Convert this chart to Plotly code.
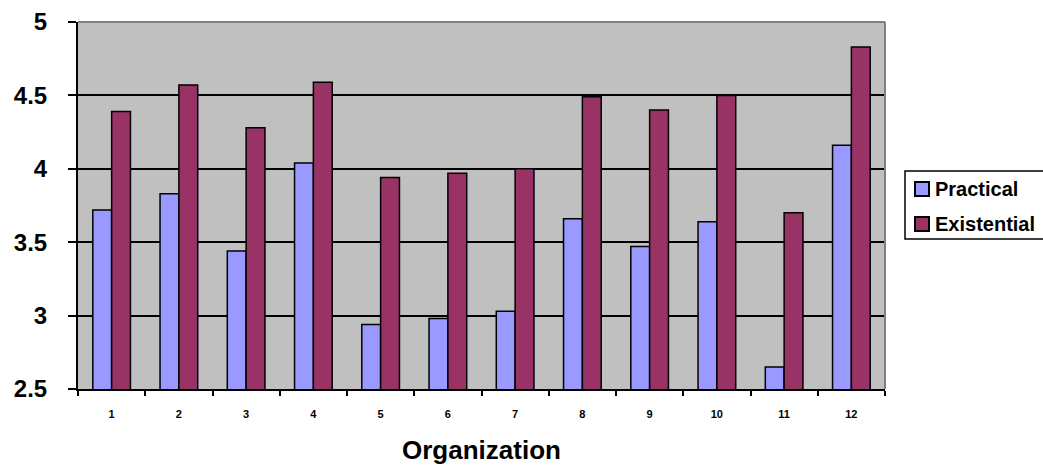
import plotly.graph_objects as go

categories = ["1", "2", "3", "4", "5", "6", "7", "8", "9", "10", "11", "12"]
practical = [3.72, 3.83, 3.44, 4.04, 2.94, 2.98, 3.03, 3.66, 3.47, 3.64, 2.65, 4.16]
existential = [4.39, 4.57, 4.28, 4.59, 3.94, 3.97, 4.00, 4.49, 4.40, 4.50, 3.70, 4.83]
series_names = ["Practical", "Existential"]
series_colors = ["#9999FF", "#993366"]
y_ticks = [2.5, 3, 3.5, 4, 4.5, 5]
y_ticktext = ["2.5", "3", "3.5", "4", "4.5", "5"]
x_title = "Organization"

FONT = "Liberation Sans, Arial, sans-serif"
W, H = 1043, 466
ML, MR, MT, MB = 78, 158, 22, 77
PW, PH = W - ML - MR, H - MT - MB


def px(x):  # screen x -> paper
    return (x - ML) / PW


def py(y):  # screen y -> paper
    return (H - MB - y) / PH


fig = go.Figure()
for name, vals, col in zip(series_names, [practical, existential], series_colors):
    fig.add_trace(go.Bar(
        x=categories, y=vals, name=name,
        marker=dict(color=col, line=dict(color="black", width=1.5)),
        showlegend=False,
    ))

shapes = [
    dict(type="line", xref="paper", yref="paper", x0=0, x1=1, y0=1, y1=1,
         line=dict(color="#808080", width=2), layer="above"),
    dict(type="line", xref="paper", yref="paper", x0=1, x1=1, y0=0, y1=1,
         line=dict(color="#808080", width=2), layer="above"),
    # legend box (cut off at the right edge, as in the reference)
    dict(type="rect", xref="paper", yref="paper",
         x0=px(905), x1=px(1060), y0=py(239), y1=py(171),
         line=dict(color="black", width=1.5), fillcolor="white", layer="above"),
]
annotations = [
    dict(text=x_title, xref="paper", yref="paper", x=0.5, y=py(450),
         xanchor="center", yanchor="middle", showarrow=False,
         font=dict(size=26, family=FONT, weight="bold", color="black")),
]
item_y = [189, 224]
for name, col, yc in zip(series_names, series_colors, item_y):
    shapes.append(dict(type="rect", xref="paper", yref="paper",
                       x0=px(915), x1=px(929), y0=py(yc + 7), y1=py(yc - 7),
                       line=dict(color="black", width=2), fillcolor=col, layer="above"))
    annotations.append(dict(text=name, xref="paper", yref="paper",
                            x=px(933), y=py(yc), xanchor="left", yanchor="middle",
                            showarrow=False,
                            font=dict(size=20, family=FONT, weight="bold", color="black")))

fig.update_layout(
    width=W, height=H,
    margin=dict(l=ML, r=MR, t=MT, b=MB),
    paper_bgcolor="white",
    plot_bgcolor="#C0C0C0",
    barmode="group",
    bargap=0.44,
    bargroupgap=0,
    showlegend=False,
    font=dict(family=FONT, color="black"),
    xaxis=dict(
        type="category", automargin=False,
        showline=True, linecolor="black", linewidth=2,
        ticks="outside", tickson="boundaries", ticklen=5, tickwidth=1.5, tickcolor="black",
        tickfont=dict(size=11, family=FONT, weight="bold"),
        ticklabelstandoff=14,
        showgrid=False,
    ),
    yaxis=dict(
        range=[2.5, 5], automargin=False,
        tickvals=y_ticks, ticktext=y_ticktext,
        showline=True, linecolor="black", linewidth=2,
        ticks="outside", ticklen=8, tickwidth=1.5, tickcolor="black",
        tickfont=dict(size=24, family=FONT, weight="bold"),
        ticklabelstandoff=16,
        showgrid=True, gridcolor="black", gridwidth=1.5,
        zeroline=False,
    ),
    shapes=shapes,
    annotations=annotations,
)

fig.write_html(
    "out.html",
    config={"displayModeBar": False},
    post_script="document.body.style.margin='0';document.body.style.overflow='hidden';",
)
